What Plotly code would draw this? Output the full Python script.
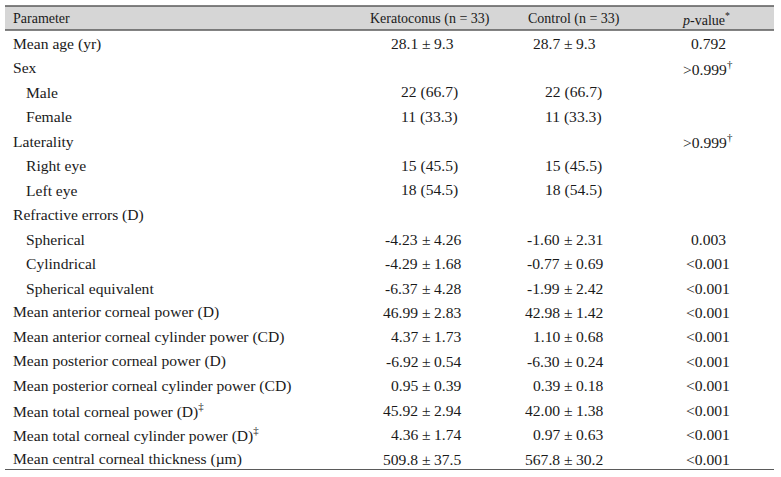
import plotly.graph_objects as go

# ---------------- data ----------------
parameters = [
    "Mean age (yr)", "Sex", "Male", "Female", "Laterality", "Right eye", "Left eye",
    "Refractive errors (D)", "Spherical", "Cylindrical", "Spherical equivalent",
    "Mean anterior corneal power (D)", "Mean anterior corneal cylinder power (CD)",
    "Mean posterior corneal power (D)", "Mean posterior corneal cylinder power (CD)",
    "Mean total corneal power (D)‡", "Mean total corneal cylinder power (D)‡",
    "Mean central corneal thickness (µm)",
]
indented = [False, False, True, True, False, True, True,
            False, True, True, True,
            False, False, False, False, False, False, False]
keratoconus = [
    "28.1 ± 9.3", "", "22 (66.7)", "11 (33.3)", "", "15 (45.5)", "18 (54.5)",
    "", "-4.23 ± 4.26", "-4.29 ± 1.68", "-6.37 ± 4.28",
    "46.99 ± 2.83", "4.37 ± 1.73", "-6.92 ± 0.54", "0.95 ± 0.39",
    "45.92 ± 2.94", "4.36 ± 1.74", "509.8 ± 37.5",
]
control = [
    "28.7 ± 9.3", "", "22 (66.7)", "11 (33.3)", "", "15 (45.5)", "18 (54.5)",
    "", "-1.60 ± 2.31", "-0.77 ± 0.69", "-1.99 ± 2.42",
    "42.98 ± 1.42", "1.10 ± 0.68", "-6.30 ± 0.24", "0.39 ± 0.18",
    "42.00 ± 1.38", "0.97 ± 0.63", "567.8 ± 30.2",
]
p_values = [
    "0.792", ">0.999†", "", "", ">0.999†", "", "",
    "", "0.003", "<0.001", "<0.001",
    "<0.001", "<0.001", "<0.001", "<0.001",
    "<0.001", "<0.001", "<0.001",
]
headers = ["Parameter", "Keratoconus (n = 33)", "Control (n = 33)", "<i>p</i>-value<sup>*</sup>"]

# ---------------- layout ----------------
W, H = 781, 477
FONT = "Liberation Serif, Times New Roman, serif"
TXT = "#1a1a1a"
FS = 15.6
HFS = 14

def fmt(s):
    s = s.replace("<", "&lt;").replace(">", "&gt;")
    for mark in ["†", "‡"]:
        s = s.replace(mark, "<sup>" + mark + "</sup>")
    return s

row0, dy = 43.5, 24.45
x_lab, x_ind = 12, 25
pm_x = [426, 568]
gap = 7.3
cnt_right = [458.5, 602.5]
p_center = 708

ann = []
def add(text, x, y, xanchor, size=FS):
    ann.append(dict(text=text, x=x, y=y, xref="x", yref="y", xanchor=xanchor,
                    yanchor="middle", showarrow=False, borderpad=0,
                    font=dict(family=FONT, size=size, color=TXT)))

# header
hy = 18.5
add(headers[0], 12, hy, "left", HFS)
add(headers[1], 430, hy, "center", HFS)
add(headers[2], 574, hy, "center", HFS)
add(headers[3], 706, hy, "center", HFS)

for i, name in enumerate(parameters):
    y = row0 + i * dy
    add(fmt(name), x_ind if indented[i] else x_lab, y, "left")
    for c, val in enumerate([keratoconus[i], control[i]]):
        if not val:
            continue
        if "±" in val:
            left, right = [s.strip() for s in val.split("±")]
            add(left, pm_x[c] - gap, y, "right")
            add("±", pm_x[c], y, "center")
            add(right, pm_x[c] + gap, y, "left")
        else:
            add(val, cnt_right[c], y, "right")
    if p_values[i]:
        add(fmt(p_values[i]), p_center, y, "center")

shapes = [
    dict(type="rect", xref="x", yref="y", x0=5, x1=774, y0=6, y1=30,
         fillcolor="#d6d6d6", line=dict(width=0), layer="below"),
    dict(type="line", xref="x", yref="y", x0=5, x1=774, y0=6, y1=6,
         line=dict(color="#5a5a5a", width=1.5)),
    dict(type="line", xref="x", yref="y", x0=5, x1=774, y0=30, y1=30,
         line=dict(color="#5a5a5a", width=1.5)),
    dict(type="line", xref="x", yref="y", x0=5, x1=774, y0=469.5, y1=469.5,
         line=dict(color="#5a5a5a", width=1.2)),
]

fig = go.Figure()
fig.add_trace(go.Scatter(x=[0, W], y=[0, H], mode="markers",
                         marker=dict(opacity=0), hoverinfo="skip", showlegend=False))
fig.update_layout(
    width=W, height=H, margin=dict(l=0, r=0, t=0, b=0),
    paper_bgcolor="white", plot_bgcolor="white",
    xaxis=dict(range=[0, W], visible=False, fixedrange=True),
    yaxis=dict(range=[H, 0], visible=False, fixedrange=True),
    annotations=ann, shapes=shapes,
)
fig.write_html("out.html", config={"displayModeBar": False},
               post_script="document.body.style.margin='0';document.body.style.overflow='hidden';")
